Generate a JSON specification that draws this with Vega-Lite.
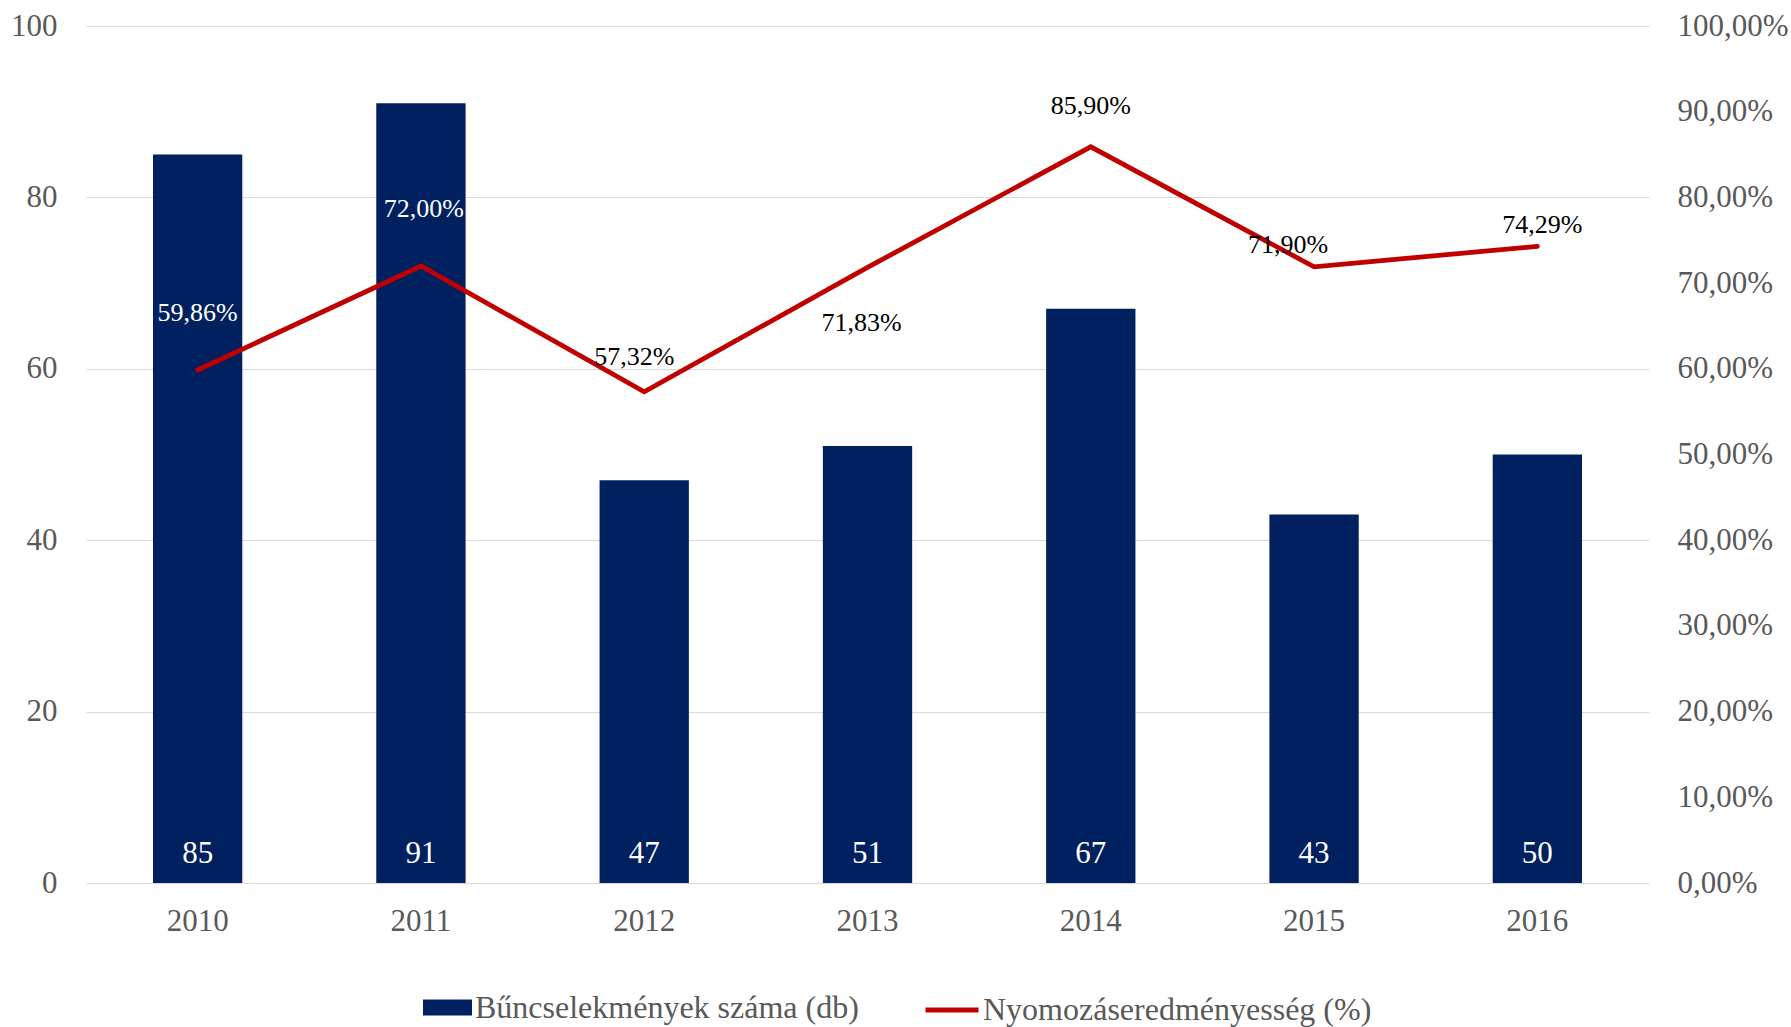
{
  "$schema": "https://vega.github.io/schema/vega-lite/v6.json",
  "width": 1563,
  "height": 857,
  "autosize": {"type": "none"},
  "padding": {"left": 86, "top": 26, "right": 142, "bottom": 144},
  "background": "white",
  "config": {
    "view": {"stroke": null},
    "font": "Liberation Serif",
    "locale": {"number": {"decimal": ",", "thousands": " ", "grouping": [3], "currency": ["", " Ft"]}},
    "axis": {"labelFont": "Liberation Serif", "labelColor": "#595959", "labelFontSize": 31, "ticks": false, "domain": false, "title": null},
    "legend": {"labelFont": "Liberation Serif", "labelColor": "#595959", "labelFontSize": 32, "padding": 0, "title": null, "labelLimit": 600}
  },
  "data": {
    "values": [
      {"year": "2010", "count": 85, "rate": 0.5986},
      {"year": "2011", "count": 91, "rate": 0.72},
      {"year": "2012", "count": 47, "rate": 0.5732},
      {"year": "2013", "count": 51, "rate": 0.7183},
      {"year": "2014", "count": 67, "rate": 0.859},
      {"year": "2015", "count": 43, "rate": 0.719},
      {"year": "2016", "count": 50, "rate": 0.7429}
    ]
  },
  "encoding": {
    "x": {
      "field": "year",
      "type": "nominal",
      "scale": {"paddingInner": 0.6, "paddingOuter": 0.3},
      "axis": {"labelAngle": 0, "labelPadding": 23, "grid": false}
    }
  },
  "layer": [
    {
      "encoding": {
        "y": {
          "type": "quantitative",
          "scale": {"domain": [0, 100], "nice": false},
          "axis": {"orient": "left", "values": [0, 20, 40, 60, 80, 100], "grid": true, "gridColor": "#d9d9d9", "gridWidth": 1.2, "labelPadding": 29}
        }
      },
      "layer": [
        {
          "mark": {"type": "bar", "fill": "#002060"},
          "encoding": {
            "y": {"field": "count"},
            "fill": {
              "datum": "Bűncselekmények száma (db)",
              "type": "nominal",
              "scale": {"range": ["#002060"]},
              "legend": {"orient": "none", "legendX": 337, "legendY": 957, "symbolType": "M-1,-0.33H1V0.33H-1Z", "symbolSize": 2401, "symbolStrokeWidth": 0, "labelOffset": 3}
            }
          }
        },
        {
          "mark": {"type": "text", "color": "white", "fontSize": 31, "baseline": "middle", "dy": -29},
          "encoding": {
            "y": {"datum": 0},
            "text": {"field": "count", "type": "quantitative"}
          }
        }
      ]
    },
    {
      "encoding": {
        "y": {
          "type": "quantitative",
          "scale": {"domain": [0, 1], "nice": false},
          "axis": {"orient": "right", "values": [0, 0.1, 0.2, 0.3, 0.4, 0.5, 0.6, 0.7, 0.8, 0.9, 1], "format": ".2%", "grid": false, "labelPadding": 28}
        }
      },
      "layer": [
        {
          "mark": {"type": "line", "strokeWidth": 4.8, "strokeJoin": "miter", "strokeCap": "round"},
          "encoding": {
            "y": {"field": "rate"},
            "stroke": {
              "datum": "Nyomozáseredményesség (%)",
              "type": "nominal",
              "scale": {"range": ["#C00000"]},
              "legend": {"orient": "none", "legendX": 837, "legendY": 955, "symbolType": "stroke", "symbolSize": 2809, "symbolStrokeWidth": 4.8, "labelOffset": 2}
            }
          }
        },
        {
          "transform": [{"filter": "datum.year == '2010'"}],
          "mark": {"type": "text", "color": "white", "fontSize": 26, "baseline": "middle", "dy": -57, "dx": 0},
          "encoding": {"y": {"field": "rate"}, "text": {"field": "rate", "type": "quantitative", "format": ".2%"}}
        },
        {
          "transform": [{"filter": "datum.year == '2011'"}],
          "mark": {"type": "text", "color": "white", "fontSize": 26, "baseline": "middle", "dy": -57, "dx": 3},
          "encoding": {"y": {"field": "rate"}, "text": {"field": "rate", "type": "quantitative", "format": ".2%"}}
        },
        {
          "transform": [{"filter": "datum.year == '2012'"}],
          "mark": {"type": "text", "color": "black", "fontSize": 26, "baseline": "middle", "dy": -35, "dx": -10},
          "encoding": {"y": {"field": "rate"}, "text": {"field": "rate", "type": "quantitative", "format": ".2%"}}
        },
        {
          "transform": [{"filter": "datum.year == '2013'"}],
          "mark": {"type": "text", "color": "black", "fontSize": 26, "baseline": "middle", "dy": 56, "dx": -6},
          "encoding": {"y": {"field": "rate"}, "text": {"field": "rate", "type": "quantitative", "format": ".2%"}}
        },
        {
          "transform": [{"filter": "datum.year == '2014'"}],
          "mark": {"type": "text", "color": "black", "fontSize": 26, "baseline": "middle", "dy": -41, "dx": 0},
          "encoding": {"y": {"field": "rate"}, "text": {"field": "rate", "type": "quantitative", "format": ".2%"}}
        },
        {
          "transform": [{"filter": "datum.year == '2015'"}],
          "mark": {"type": "text", "color": "black", "fontSize": 26, "baseline": "middle", "dy": -22, "dx": -26},
          "encoding": {"y": {"field": "rate"}, "text": {"field": "rate", "type": "quantitative", "format": ".2%"}}
        },
        {
          "transform": [{"filter": "datum.year == '2016'"}],
          "mark": {"type": "text", "color": "black", "fontSize": 26, "baseline": "middle", "dy": -21, "dx": 5},
          "encoding": {"y": {"field": "rate"}, "text": {"field": "rate", "type": "quantitative", "format": ".2%"}}
        }
      ]
    }
  ],
  "resolve": {"scale": {"y": "independent", "fill": "independent", "stroke": "independent"}}
}
